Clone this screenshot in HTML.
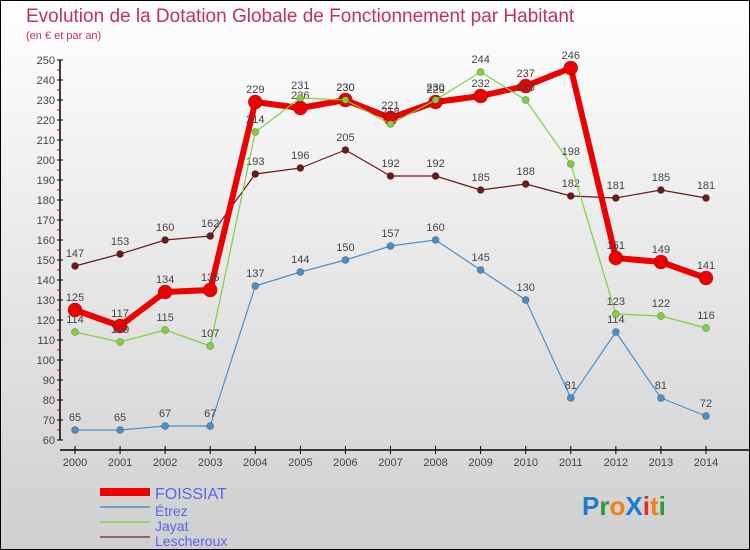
<!DOCTYPE html>
<html><head><meta charset="utf-8"><style>
html,body{margin:0;padding:0}
body{width:750px;height:550px;overflow:hidden;font-family:"Liberation Sans",sans-serif}
svg{display:block}
</style></head><body>
<svg id="chart" width="750" height="550" xmlns="http://www.w3.org/2000/svg">
<defs><linearGradient id="bg" x1="0" y1="0" x2="0" y2="1"><stop offset="0" stop-color="#ffffff"/><stop offset="1" stop-color="#cfcfcf"/></linearGradient></defs>
<rect x="0.5" y="0.5" width="749" height="549" fill="url(#bg)" stroke="#000"/>
<text x="26" y="22" font-size="19" fill="#c03060">Evolution de la Dotation Globale de Fonctionnement par Habitant</text>
<text x="26" y="39" font-size="11" fill="#c03060">(en € et par an)</text>
<g id="axes"></g><g id="series"></g><g id="legend"></g>
<text x="582" y="515" font-size="26" font-weight="bold"><tspan fill="#1a7ad4">P</tspan><tspan fill="#2a9a3a">r</tspan><tspan fill="#f08010">o</tspan><tspan fill="#1a7ad4">X</tspan><tspan fill="#e03020">i</tspan><tspan fill="#f08010">t</tspan><tspan fill="#2a9a3a">i</tspan></text>
</svg>
<script>
const years=[2000,2001,2002,2003,2004,2005,2006,2007,2008,2009,2010,2011,2012,2013,2014];
const foissiat=[125,117,134,135,229,226,230,221,229,232,237,246,151,149,141];
const etrez=[65,65,67,67,137,144,150,157,160,145,130,81,114,81,72];
const jayat=[114,109,115,107,214,231,230,218,230,244,230,198,123,122,116];
const lescheroux=[147,153,160,162,193,196,205,192,192,185,188,182,181,185,181];
const yTicks=[60,70,80,90,100,110,120,130,140,150,160,170,180,190,200,210,220,230,240,250];
const NS="http://www.w3.org/2000/svg";
const xs=i=>75+i*(706-75)/(years.length-1);
const ys=v=>60+(250-v)*2;
function mk(t,a,p){const e=document.createElementNS(NS,t);for(const k in a)e.setAttribute(k,a[k]);p.appendChild(e);return e;}
const ax=document.getElementById('axes');
let l=mk('line',{x1:60,y1:60,x2:60,y2:440,stroke:'#000','stroke-width':1.5},ax);


l=mk('line',{x1:60,y1:450,x2:750,y2:450,stroke:'#000','stroke-width':1.5},ax);


yTicks.forEach((v,i)=>{
  mk('line',{x1:57,y1:ys(v),x2:63,y2:ys(v),stroke:'#000'},ax);
  if(i<yTicks.length-1)mk('line',{x1:57,y1:ys(v)-10,x2:60,y2:ys(v)-10,stroke:'#e00'},ax);
  const t=mk('text',{x:55,y:ys(v)+4,'font-size':11,'text-anchor':'end',fill:'#444'},ax);
  t.textContent=v;
  
  
});
years.forEach((y,i)=>{
  mk('line',{x1:xs(i),y1:446,x2:xs(i),y2:454,stroke:'#000'},ax);
  const t=mk('text',{x:xs(i),y:466,'font-size':11,'text-anchor':'middle',fill:'#444'},ax);
  t.textContent=y;
  
  
});
const sg=document.getElementById('series');
function draw(data,name,color,w,r){
  const g=mk('g',{},sg);
  
  
  const pl=mk('polyline',{points:data.map((v,i)=>xs(i)+','+ys(v)).join(' '),fill:'none',stroke:color,'stroke-width':w,'stroke-linejoin':'round'},g);
  
  
  data.forEach((v,i)=>{
    const c=mk('circle',{cx:xs(i),cy:ys(v),r:r,fill:color,stroke:'rgba(0,0,0,0.3)','stroke-width':0.7},g);
    
    
    const t=mk('text',{x:xs(i),y:ys(v)-9,'font-size':11,'text-anchor':'middle',fill:'#444'},g);
    t.textContent=v;
    
    
  });
}
draw(lescheroux,'lescheroux','#6b1a1a',1.2,3.5);
draw(etrez,'etrez','#4a90c8',1.2,3.5);
draw(foissiat,'foissiat','#ee0000',6,7);
draw(jayat,'jayat','#7ed040',1.2,3.5);
const lg=document.getElementById('legend');
const leg=[['FOISSIAT','#ee0000',8,495,16],['Étrez','#6ca0c8',2,512,14],['Jayat','#90d070',2,527,14],['Lescheroux','#9a6060',2,542,14]];
leg.forEach(d=>{
  const g=mk('g',{},lg);
  
  
  mk('line',{x1:100,y1:d[3]-7+(d[2]>2?4:2),x2:150,y2:d[3]-7+(d[2]>2?4:2),stroke:d[1],'stroke-width':d[2]},g);
  const t=mk('text',{x:155,y:d[3]+4,'font-size':d[4],fill:'#6060f0'},g);
  t.textContent=d[0];
});
</script>
</body></html>
